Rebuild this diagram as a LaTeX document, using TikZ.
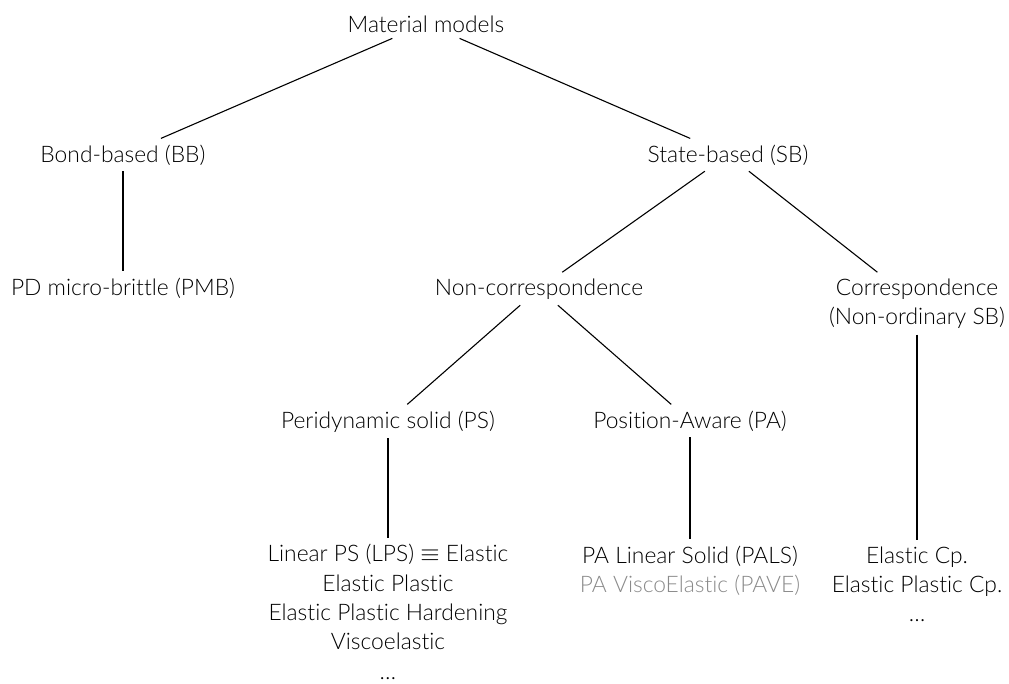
\documentclass[tikz,border=0pt]{standalone}
\usepackage{amssymb, amsmath}
\usepackage{fontspec}
\setmainfont{Lato Light}[Ligatures=NoCommon]
\usepackage{tikz}

\begin{document}
\begin{tikzpicture}[x=1pt,y=-1pt]
      \tikzset{model/.style={inner sep=6pt,
          align=center,
          anchor=base,
          font=\fontsize{22.8}{29.3}\selectfont}
      }
      \useasboundingbox (0,0) rectangle (1009,683);
      % base = baseline of the last line
      \node [model] (mm) at (426,32) {Material models};
      \node [model] (bb) at (123,162) {Bond-based (BB)};
      \node [model] (sb) at (728,162) {State-based (SB)};
      \node [model] (pmb) at (123,295) {PD micro-brittle (PMB)};
      \node [model] (nc) at (539,295) {Non-correspondence};
      \node [model] (cor) at (917,324.3) {Correspondence\\(Non-ordinary SB)};
      \node [model] (ps) at (388,428) {Peridynamic solid (PS)};
      \node [model] (pa) at (690,428) {Position-Aware (PA)};
      \node [model] (lps) at (388,679) {Linear PS (LPS) {\fontsize{24}{24}\selectfont$\equiv$} Elastic\\Elastic Plastic\\Elastic Plastic Hardening\\Viscoelastic\\\dots};
      \node [model] (pals) at (690,592.3) {PA Linear Solid (PALS)\\\textcolor[HTML]{8A8A8A}{PA ViscoElastic (PAVE)}};
      \node [model] (corm) at (917,621.6) {Elastic Cp.\\Elastic Plastic Cp.\\\dots};
      \draw [line width=1.1pt] (mm)--(bb);
      \draw [line width=1.1pt] (mm)--(sb);
      \draw [line width=1.1pt] (bb)--(pmb);
      \draw [line width=1.1pt] (sb)--(nc);
      \draw [line width=1.1pt] (sb)--(cor);
      \draw [line width=1.1pt] (nc)--(ps);
      \draw [line width=1.1pt] (nc)--(pa);
      \draw [line width=1.1pt] (ps)--(lps);
      \draw [line width=1.1pt] (pa)--(pals);
      \draw [line width=1.1pt] (cor)--(corm);
    \end{tikzpicture}
\end{document}
